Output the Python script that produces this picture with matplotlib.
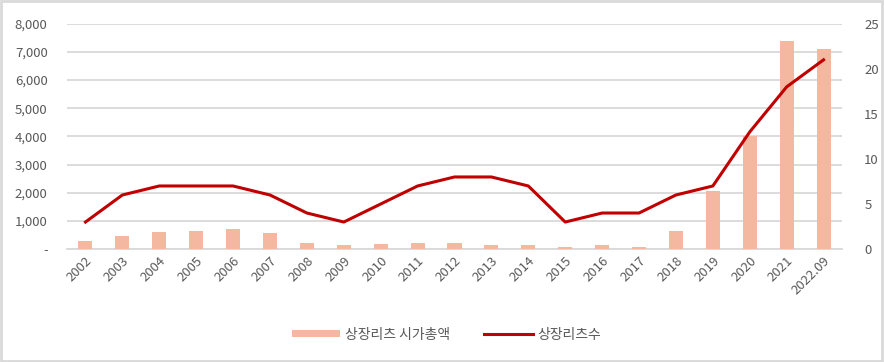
import numpy as np
import matplotlib.pyplot as plt
from matplotlib.patches import Rectangle
from matplotlib.ticker import FuncFormatter

plt.rcParams['font.family'] = ['Noto Sans CJK KR', 'DejaVu Sans']

# 데이터
years = ['2002', '2003', '2004', '2005', '2006', '2007', '2008', '2009', '2010', '2011',
         '2012', '2013', '2014', '2015', '2016', '2017', '2018', '2019', '2020', '2021', '2022.09']
market_cap = [300, 475, 620, 650, 720, 570, 215, 155, 180, 215,
              205, 160, 160, 60, 160, 85, 630, 2050, 4030, 7380, 7100]
reit_count = [3, 6, 7, 7, 7, 6, 4, 3, 5, 7, 8, 8, 7, 3, 4, 4, 6, 7, 13, 18, 21]

bar_color = '#F4B7A0'
line_color = '#C00000'
grid_color = '#D9D9D9'
text_color = '#595959'

fig = plt.figure(figsize=(8.84, 3.62), dpi=100)
ax = fig.add_axes([0.0758, 0.312, 0.8767, 0.6223])
ax2 = ax.twinx()

x = np.arange(len(years))
bars = ax.bar(x, market_cap, width=0.38, color=bar_color, zorder=3, label='상장리츠 시가총액')
line, = ax2.plot(x, reit_count, color=line_color, lw=2.2, zorder=3, label='상장리츠수')

ax.set_xlim(-0.5, len(years) - 0.5)
ax.set_ylim(0, 8000)
ax.set_yticks(np.arange(0, 8001, 1000))
ax.yaxis.set_major_formatter(FuncFormatter(lambda v, p: '-' if v == 0 else f'{int(v):,}'))
ax2.set_ylim(0, 25)
ax2.set_yticks(np.arange(0, 26, 5))

ax.set_xticks(x)
ax.set_xticklabels(years, rotation=45, ha='right', rotation_mode='anchor')

ax.grid(axis='y', color=grid_color, lw=1.3, zorder=0)
ax.set_axisbelow(True)

for a in (ax, ax2):
    for s in a.spines.values():
        s.set_visible(False)
    a.tick_params(length=0, colors=text_color, labelsize=9.5)
ax.spines['bottom'].set_visible(True)
ax.spines['bottom'].set_color(grid_color)
ax.spines['bottom'].set_linewidth(1.3)
ax.spines['bottom'].set_zorder(1)
ax.tick_params(axis='y', pad=14)
ax.tick_params(axis='x', pad=4)
ax2.tick_params(axis='y', pad=16)

# 범례
leg = fig.legend(handles=[bars, line], loc='center', bbox_to_anchor=(0.505, 0.075),
                 ncol=2, frameon=False, fontsize=10, handlelength=3.5,
                 columnspacing=2.5, handletextpad=0.3)
for t in leg.get_texts():
    t.set_color(text_color)
leg.legend_handles[0].set_height(5)
leg.legend_handles[0].set_y(1.5)

# 테두리
fig.patches.append(Rectangle((0.001, 0.002), 0.997, 0.995, transform=fig.transFigure,
                             fill=False, edgecolor=grid_color, lw=2))

fig.savefig('out.png', dpi=100)
